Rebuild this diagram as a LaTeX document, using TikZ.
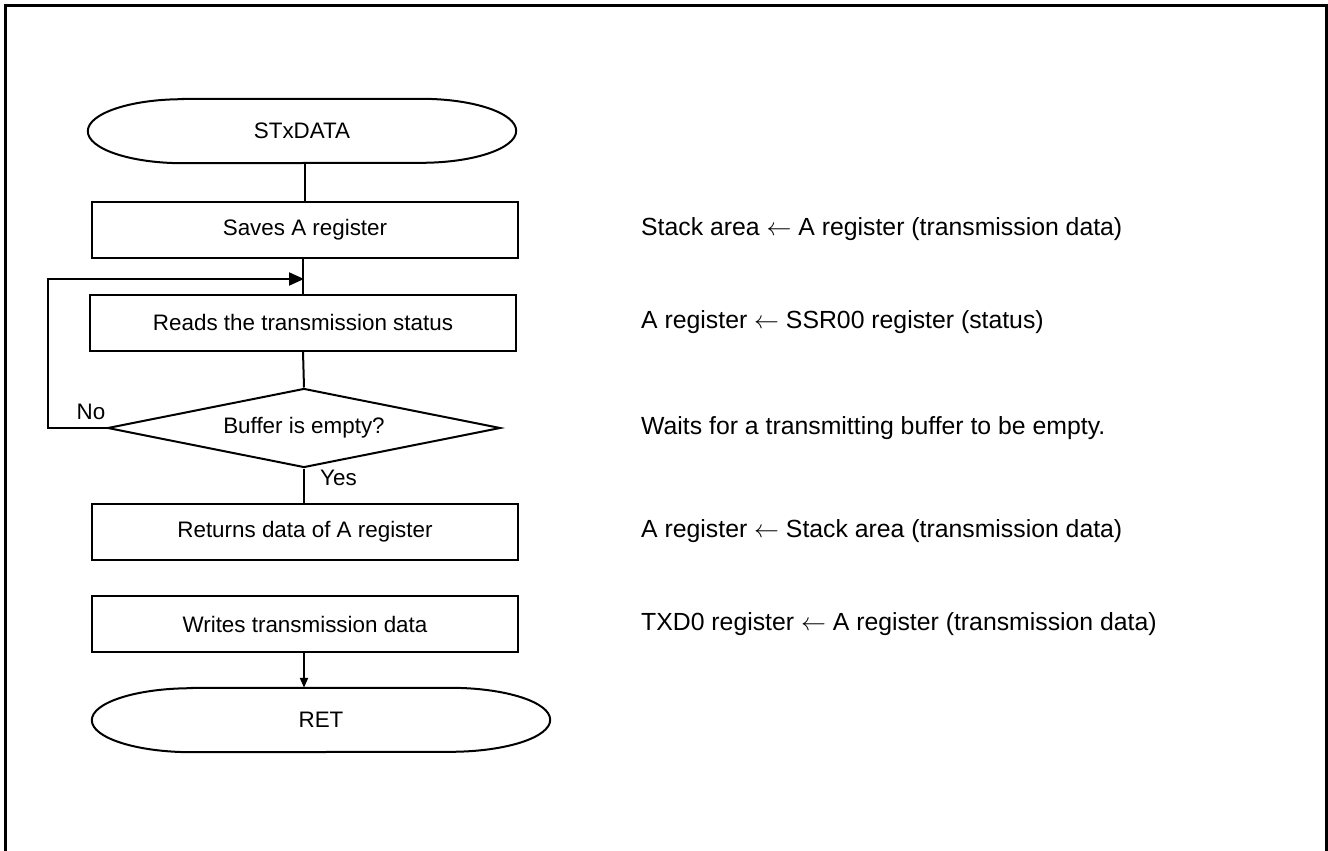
\documentclass[tikz,border=0pt]{standalone}
\usepackage{fontspec}
\setmainfont{Liberation Sans}
\usetikzlibrary{arrows.meta,shapes.geometric}
\newcommand{\larr}{$\leftarrow$}
\begin{document}
\begin{tikzpicture}[x=1pt,y=-1pt,
  line/.style={draw=black,line width=2pt},
  box/.style={draw=black,line width=2pt,rectangle,minimum width=426pt,minimum height=56pt,inner sep=0pt,font=\fontsize{22.4}{26}\selectfont},
  term/.style={rectangle,minimum width=428pt,minimum height=64pt,inner sep=0pt,font=\fontsize{22.4}{26}\selectfont},
  dec/.style={draw=black,line width=2pt,diamond,aspect=5,minimum width=393pt,minimum height=79pt,inner sep=0pt,font=\fontsize{22.4}{26}\selectfont},
  note/.style={anchor=west,inner sep=0pt,font=\fontsize{24.8}{28}\selectfont},
  lbl/.style={inner sep=0pt,font=\fontsize{22.4}{26}\selectfont},
  bigtip/.style={-{Triangle[length=15pt,width=13pt]}},
  smalltip/.style={-{Triangle[length=10pt,width=8pt]}}
]
\useasboundingbox (0,0) rectangle (1328,851);
\draw[line width=3pt] (5,853) -- (5,6) -- (1326,6) -- (1326,853);

% terminators
\node[term] (start) at (302,131) {STxDATA};
\draw[line] ([xshift=95pt]start.north west) -- ([xshift=-95pt]start.north east)
  arc[start angle=-90,end angle=90,x radius=95,y radius=32]
  -- ([xshift=95pt]start.south west)
  arc[start angle=90,end angle=270,x radius=95,y radius=32] -- cycle;

\node[box] (b1) at (305,229.5) {Saves A register};
\node[box] (b2) at (303,322.5) {Reads the transmission status};
\node[dec] (d1) at (304,428) {Buffer is empty?};
\node[box] (b3) at (305,532) {Returns data of A register};
\node[box] (b4) at (305,624) {Writes transmission data};

\node[term,minimum width=458pt] (ret) at (321,720) {RET};
\draw[line] ([xshift=100pt]ret.north west) -- ([xshift=-100pt]ret.north east)
  arc[start angle=-90,end angle=90,x radius=100,y radius=32]
  -- ([xshift=100pt]ret.south west)
  arc[start angle=90,end angle=270,x radius=100,y radius=32] -- cycle;

% connectors
\coordinate (join) at (304,279);
\coordinate (loopL) at (48,428);
\draw[line] (start.south -| b1.north) -- (b1.north);
\draw[line] (b1.south -| b2.north) -- (b2.north);
\draw[line] (b2.south) -- (d1.north);
\draw[line,bigtip] (d1.west) -- (loopL) |- (join);
\draw[line] (d1.south) -- (d1.south |- b3.north);
\draw[line] (b3.south -| d1.south) -- (b3.south -| d1.south |- b4.north);
\draw[line,smalltip] (b4.south -| d1.south) -- (d1.south |- ret.north);

\node[lbl] (no) at (91,412) {No};
\node[lbl,anchor=west] (yes) at (320,478) {Yes};

% notes
\node[note] (n1) at (641,229) {Stack area \larr{} A register (transmission data)};
\node[note] (n2) at (641,322) {A register \larr{} SSR00 register (status)};
\node[note] (n3) at (641,428) {Waits for a transmitting buffer to be empty.};
\node[note] (n4) at (641,531) {A register \larr{} Stack area (transmission data)};
\node[note] (n5) at (641,624) {TXD0 register \larr{} A register (transmission data)};
\end{tikzpicture}
\end{document}
